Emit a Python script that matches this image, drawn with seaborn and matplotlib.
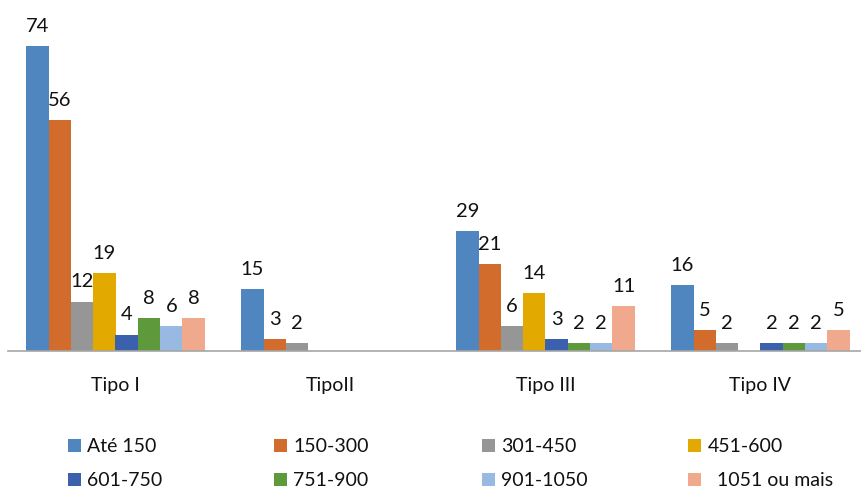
import numpy as np
import pandas as pd
import seaborn as sns
import matplotlib.pyplot as plt
from matplotlib.patches import Patch

tipos = ['Tipo I', 'TipoII', 'Tipo III', 'Tipo IV']
faixas = ['Até 150', '150-300', '301-450', '451-600',
          '601-750', '751-900', '901-1050', '1051 ou mais']
# one list per faixa, values per tipo (0 = no bar)
ate_150 = [74, 15, 29, 16]
f150_300 = [56, 3, 21, 5]
f301_450 = [12, 2, 6, 2]
f451_600 = [19, 0, 14, 0]
f601_750 = [4, 0, 3, 2]
f751_900 = [8, 0, 2, 2]
f901_1050 = [6, 0, 2, 2]
f1051_mais = [8, 0, 11, 5]
series = [ate_150, f150_300, f301_450, f451_600,
          f601_750, f751_900, f901_1050, f1051_mais]

cores = ['#4F86BF', '#D26C2C', '#969696', '#E2AA00',
         '#3A60AE', '#5E9A3C', '#98B9E2', '#F0A98C']

rows = []
for faixa, vals in zip(faixas, series):
    for t, v in zip(tipos, vals):
        rows.append({'tipo': t, 'faixa': faixa, 'valor': v})
df = pd.DataFrame(rows)

sns.set_style('white')
plt.rcParams['font.family'] = ['Lato', 'DejaVu Sans']

fig = plt.figure(figsize=(8.61, 4.90), dpi=100)
ax = fig.add_axes([8 / 861, (490 - 351) / 490, 860 / 861, 330 / 490])

sns.barplot(data=df, x='tipo', y='valor', hue='faixa', hue_order=faixas,
            order=tipos, palette=cores, saturation=1, width=0.83,
            linewidth=0, legend=False, ax=ax)

for cont, vals in zip(ax.containers, series):
    labs = [str(v) if v > 0 else '' for v in vals]
    ax.bar_label(cont, labels=labs, padding=8, fontsize=14.5, color='#111111')

ax.set_xlim(-0.5, 3.5)
ax.set_ylim(0, 80)
ax.set_xlabel('')
ax.set_ylabel('')
ax.set_yticks([])
ax.tick_params(axis='x', length=0, pad=19, labelsize=14, colors='#111111')
for s in ['top', 'right', 'left']:
    ax.spines[s].set_visible(False)
ax.spines['bottom'].set_color('#A6A6A6')
ax.spines['bottom'].set_linewidth(1.2)

# legend: 4 columns x 2 rows, equal column spacing
leg_labels = faixas[:7] + ['  1051 ou mais']
col_x = [68, 274, 482, 688]
for c in range(4):
    handles = [Patch(facecolor=cores[c], edgecolor='none'),
               Patch(facecolor=cores[c + 4], edgecolor='none')]
    labels = [leg_labels[c], leg_labels[c + 4]]
    fig.legend(handles, labels, loc='upper left',
               bbox_to_anchor=(col_x[c] / 861, 1 - 438 / 490),
               frameon=False, fontsize=14, handlelength=0.65,
               handleheight=0.65, handletextpad=0.35, labelspacing=0.9,
               borderpad=0, borderaxespad=0, labelcolor='#111111')

fig.savefig('out.png', dpi=100)
